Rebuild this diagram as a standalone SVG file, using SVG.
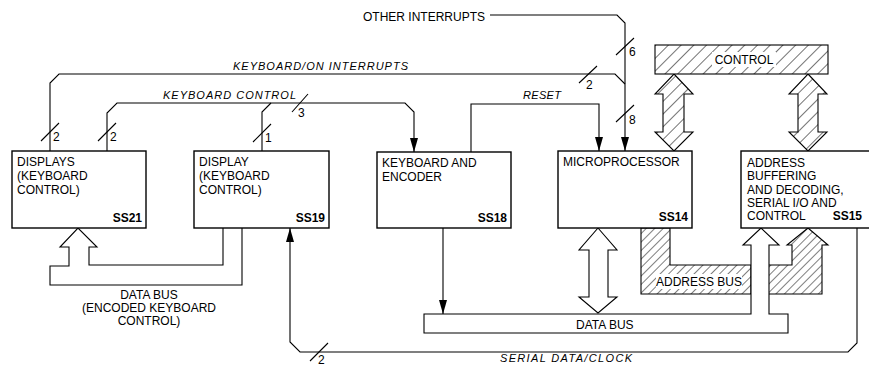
<svg xmlns="http://www.w3.org/2000/svg" width="869" height="366" viewBox="0 0 869 366">
<defs>
<style>
.box{fill:#fff;stroke:#000;stroke-width:1.4}
.ln{fill:none;stroke:#000;stroke-width:1.1}
.t{font-family:"Liberation Sans",Arial,sans-serif;font-size:12px;fill:#000}
.b{font-weight:bold}
.it{font-family:"Liberation Sans",Arial,sans-serif;font-size:11px;font-style:italic;fill:#000}
.bus{fill:#fff;stroke:#000;stroke-width:1.1}
.hb{fill:url(#hatch);stroke:#000;stroke-width:1.1}
.hb2{fill:url(#hatch2);stroke:#000;stroke-width:1.1}
</style>
<pattern id="hatch" patternUnits="userSpaceOnUse" width="9" height="9" patternTransform="rotate(45)">
<rect width="9" height="9" fill="#fff"/>
<line x1="0" y1="0" x2="0" y2="9" stroke="#000" stroke-width="1.1"/>
</pattern>
<pattern id="hatch2" patternUnits="userSpaceOnUse" width="6" height="6" patternTransform="rotate(45)">
<rect width="6" height="6" fill="#fff"/>
<line x1="0" y1="0" x2="0" y2="6" stroke="#000" stroke-width="1"/>
</pattern>
<marker id="arr" viewBox="0 0 14 8" refX="14" refY="4" markerWidth="14" markerHeight="8" markerUnits="userSpaceOnUse" orient="auto">
<path d="M0,0 L14,4 L0,8 z" fill="#000"/>
</marker>
</defs>

<g id="connectors">
<path class="ln" d="M50,151 V83 L59,74 H615 L625,84"/>
<path class="ln" d="M490,15 H617 L625,23 V151" marker-end="url(#arr)"/>
<path class="ln" d="M107,151 V113 L117,103 H405 L414,112 V152" marker-end="url(#arr)"/>
<path class="ln" d="M262,151 V112 L271,103"/>
<path class="ln" d="M471,152 V104 H599 V151" marker-end="url(#arr)"/>
<path class="ln" d="M443,228 V314" marker-end="url(#arr)"/>
<path class="ln" d="M857,228 V343 L848,352 H300 L290,342 V228" marker-end="url(#arr)"/>
<!-- bus width slashes -->
<path class="ln" d="M41,141 L59,123 M98,141 L116,123 M253,142 L271,124 M292,112 L308,94 M579,83 L597,66 M616,55 L634,38 M616,122 L634,105 M310,361 L328,343"/>
<!-- encoded data bus -->
<path class="ln" d="M223,228 V265 H89 V247 H97 L78,228 L60,247 H69 V266 H50 V285 H242 V228"/>
<!-- control bus arrows -->
<path class="hb" d="M674,74 L693,94 H684 V132 H693 L674,151 L655,132 H663 V94 H655 Z"/>
<path class="hb" d="M808,74 L827,94 H818 V132 H827 L808,151 L789,132 H798 V94 H789 Z"/>
<!-- address bus -->
<path class="hb2" d="M641,228 H670 V265 H751 V294 H641 Z"/>
<path class="hb2" d="M768,265 H792 V245 H787 L808,228 L828,245 H822 V294 H768 Z"/>
<!-- data bus -->
<path class="bus" d="M424,314 H751 V245 H743 L761,228 L779,245 H769 V314 H788 V333 H424 Z"/>
<path class="bus" d="M598,228 L617,250 H608 V297 H617 L598,313 L579,297 H589 V250 H579 Z"/>
</g>

<g id="control-bus">
<rect class="hb" x="655" y="45" width="173" height="29"/>
<rect x="712" y="52" width="64" height="15" fill="#fff"/>
<text class="t" x="744" y="64" text-anchor="middle">CONTROL</text>
</g>

<g id="address-bus-label">
<rect x="656" y="274" width="86" height="15" fill="#fff"/>
<text class="t" x="699" y="286" text-anchor="middle">ADDRESS BUS</text>
</g>

<g id="data-bus-label">
<text class="t" x="576" y="329">DATA BUS</text>
</g>

<g id="labels">
<text class="t" x="363" y="21">OTHER INTERRUPTS</text>
<text class="it" x="233" y="70" textLength="175" lengthAdjust="spacing">KEYBOARD/ON INTERRUPTS</text>
<text class="it" x="163" y="99" textLength="133" lengthAdjust="spacing">KEYBOARD CONTROL</text>
<text class="it" x="523" y="99" textLength="38" lengthAdjust="spacing">RESET</text>
<text class="it" x="500" y="362" textLength="132" lengthAdjust="spacing">SERIAL DATA/CLOCK</text>
<text class="t" x="53" y="141">2</text>
<text class="t" x="110" y="141">2</text>
<text class="t" x="265" y="142">1</text>
<text class="t" x="298" y="117">3</text>
<text class="t" x="586" y="89">2</text>
<text class="t" x="629" y="56">6</text>
<text class="t" x="629" y="124">8</text>
<text class="t" x="318" y="364" font-size="10">2</text>
<text class="t" x="149" y="299" text-anchor="middle">DATA BUS</text>
<text class="t" x="149" y="312" text-anchor="middle">(ENCODED KEYBOARD</text>
<text class="t" x="149" y="325" text-anchor="middle">CONTROL)</text>
</g>

<g id="ss21">
<rect class="box" x="12" y="151" width="134" height="77"/>
<text class="t" x="17" y="166">DISPLAYS</text>
<text class="t" x="17" y="180">(KEYBOARD</text>
<text class="t" x="17" y="194">CONTROL)</text>
<text class="t b" x="142" y="222" text-anchor="end">SS21</text>
</g>

<g id="ss19">
<rect class="box" x="194" y="151" width="135" height="77"/>
<text class="t" x="199" y="166">DISPLAY</text>
<text class="t" x="199" y="180">(KEYBOARD</text>
<text class="t" x="199" y="194">CONTROL)</text>
<text class="t b" x="325" y="222" text-anchor="end">SS19</text>
</g>

<g id="ss18">
<rect class="box" x="377" y="152" width="134" height="76"/>
<text class="t" x="382" y="167">KEYBOARD AND</text>
<text class="t" x="382" y="181">ENCODER</text>
<text class="t b" x="507" y="222" text-anchor="end">SS18</text>
</g>

<g id="ss14">
<rect class="box" x="558" y="151" width="134" height="77"/>
<text class="t" x="563" y="166">MICROPROCESSOR</text>
<text class="t b" x="688" y="221" text-anchor="end">SS14</text>
</g>

<g id="ss15">
<rect class="box" x="741" y="151" width="140" height="77"/>
<text class="t" x="747" y="167">ADDRESS</text>
<text class="t" x="747" y="180">BUFFERING</text>
<text class="t" x="747" y="194">AND DECODING,</text>
<text class="t" x="747" y="207">SERIAL I/O AND</text>
<text class="t" x="747" y="220">CONTROL</text>
<text class="t b" x="862" y="220" text-anchor="end">SS15</text>
</g>
</svg>
